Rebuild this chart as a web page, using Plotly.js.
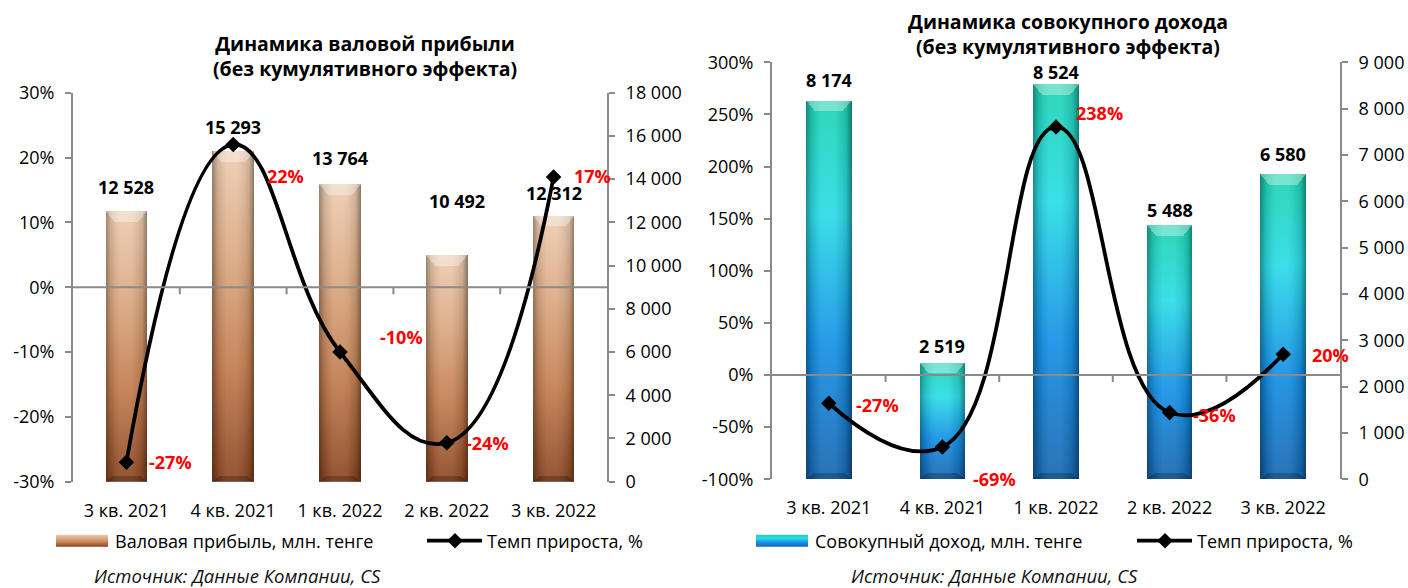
<!DOCTYPE html>
<html>
<head>
<meta charset="utf-8">
<script src="https://cdn.plot.ly/plotly-3.0.1.min.js"></script>
<style>
  html, body { margin: 0; padding: 0; background: #fff; }
  #chart { width: 1408px; height: 588px; }
</style>
</head>
<body>
<div id="chart"></div>
<script>
// Quarters
const categories = ['3 кв. 2021', '4 кв. 2021', '1 кв. 2022', '2 кв. 2022', '3 кв. 2022'];

// Gross profit, mln tenge, and its growth rate
const grossProfit = [12528, 15293, 13764, 10492, 12312];
const grossGrowth = [-0.27, 0.22, -0.10, -0.24, 0.17];

// Total income, mln tenge, and its growth rate
const totalIncome = [8174, 2519, 8524, 5488, 6580];
const incomeGrowth = [-0.27, -0.69, 2.38, -0.36, 0.20];

// Label placement (pixels): lift of value labels, offsets of growth labels
const grossLift = [24, 24, 26, 54, 23];
const grossLiftX = [0, 0, 0, 10, 0];
const grossPctDX = [44, 52, 61, 41, 39];
const grossPctDY = [0, -31, 15, 0, 1];
const incomeLift = [21, 17, 12, 15, 20];
const incomePctDX = [49, 52, 43, 45, 47];
const incomePctDY = [-2, -32, 14, -2, -1];

const FONT = 'Open Sans, Noto Sans, sans-serif';
const AXIS_GREY = '#8a8a8a';

function fmtThousands(v) {
  return String(Math.round(v)).replace(/\B(?=(\d{3})+(?!\d))/g, ' ');
}
function fmtPct(v) {
  return Math.round(v * 100) + '%';
}
function ticksFrom(lo, hi, step, fmt) {
  const vals = [], text = [];
  for (let v = lo; v <= hi + step / 1000; v += step) {
    const r = Math.round(v * 1e6) / 1e6;
    vals.push(r); text.push(fmt(r));
  }
  return { tickvals: vals, ticktext: text, tickmode: 'array' };
}

const tickFont = { family: FONT, size: 18, color: '#000' };

function valueAxis(domainY, anchor, range, step) {
  return Object.assign({
    domain: domainY, anchor: anchor, side: 'right', range: range,
    showgrid: false, zeroline: false, showline: true, linecolor: AXIS_GREY, linewidth: 2,
    ticks: 'outside', ticklen: 6, tickwidth: 2, tickcolor: AXIS_GREY,
    ticklabelstandoff: 7, tickfont: tickFont, fixedrange: true
  }, ticksFrom(range[0], range[1], step, fmtThousands));
}
function pctAxis(overlay, anchor, range, step) {
  return Object.assign({
    overlaying: overlay, anchor: anchor, side: 'left', range: range,
    showgrid: false, zeroline: false, showline: true, linecolor: AXIS_GREY, linewidth: 2,
    ticks: 'outside', ticklen: 6, tickwidth: 2, tickcolor: AXIS_GREY,
    ticklabelstandoff: 7, tickfont: tickFont, fixedrange: true
  }, ticksFrom(range[0], range[1], step, fmtPct));
}
function catAxis(domainX, anchor) {
  return {
    domain: domainX, anchor: anchor, type: 'category', range: [-0.5, 4.5],
    showline: false, showgrid: false, zeroline: false, ticks: '', tickangle: 0,
    ticklabelstandoff: 16, tickfont: tickFont, fixedrange: true
  };
}

const lineStyle = { color: '#000', width: 3.8, shape: 'spline', smoothing: 1.3 };
const markerStyle = { symbol: 'diamond', size: 12, color: '#000' };

const traces = [
  {
    type: 'bar', name: 'Валовая прибыль, млн. тенге',
    x: categories, y: grossProfit, xaxis: 'x', yaxis: 'y',
    width: 0.39, marker: { color: '#c98b5f', line: { width: 0 } },
    hoverinfo: 'skip', legend: 'legend'
  },
  {
    type: 'scatter', mode: 'lines+markers', name: 'Темп прироста, %',
    x: categories, y: grossGrowth, xaxis: 'x', yaxis: 'y2',
    line: lineStyle, marker: markerStyle,
    hoverinfo: 'skip', legend: 'legend2'
  },
  {
    type: 'bar', name: 'Совокупный доход, млн. тенге',
    x: categories, y: totalIncome, xaxis: 'x2', yaxis: 'y3',
    width: 0.40, marker: { color: '#1fa6d8', line: { width: 0 } },
    hoverinfo: 'skip', legend: 'legend3'
  },
  {
    type: 'scatter', mode: 'lines+markers', name: 'Темп прироста, %',
    x: categories, y: incomeGrowth, xaxis: 'x2', yaxis: 'y4',
    line: lineStyle, marker: markerStyle,
    hoverinfo: 'skip', legend: 'legend4'
  }
];

const LEFT_X = [73 / 1408, 607 / 1408];
const LEFT_Y = [1 - 481.7 / 588, 1 - 92.7 / 588];
const RIGHT_X = [772 / 1408, 1340 / 1408];
const RIGHT_Y = [1 - 479.3 / 588, 1 - 62.3 / 588];

const annotations = [];
const labelFont = { family: FONT, size: 18, color: '#000', weight: 'bold' };
const pctFont = { family: FONT, size: 18, color: '#ff0000', weight: 'bold' };

categories.forEach((c, i) => {
  annotations.push({
    xref: 'x', yref: 'y', x: c, y: grossProfit[i], text: '<b>' + fmtThousands(grossProfit[i]) + '</b>',
    showarrow: false, yshift: grossLift[i], xshift: grossLiftX[i], font: labelFont
  });
  annotations.push({
    xref: 'x', yref: 'y2', x: c, y: grossGrowth[i], text: '<b>' + fmtPct(grossGrowth[i]) + '</b>',
    showarrow: false, xshift: grossPctDX[i], yshift: grossPctDY[i], font: pctFont
  });
  annotations.push({
    xref: 'x2', yref: 'y3', x: c, y: totalIncome[i], text: '<b>' + fmtThousands(totalIncome[i]) + '</b>',
    showarrow: false, yshift: incomeLift[i], font: labelFont
  });
  annotations.push({
    xref: 'x2', yref: 'y4', x: c, y: incomeGrowth[i], text: '<b>' + fmtPct(incomeGrowth[i]) + '</b>',
    showarrow: false, xshift: incomePctDX[i], yshift: incomePctDY[i], font: pctFont
  });
});

const titleFont = { family: FONT, size: 19.5, color: '#000' };
const sourceFont = { family: FONT, size: 18.5, color: '#111' };
annotations.push(
  { xref: 'paper', yref: 'paper', x: 365 / 1408, y: 1 - 56 / 588, xanchor: 'center', yanchor: 'middle',
    text: '<b>Динамика валовой прибыли<br>(без кумулятивного эффекта)</b>',
    showarrow: false, font: titleFont },
  { xref: 'paper', yref: 'paper', x: 1068 / 1408, y: 1 - 34 / 588, xanchor: 'center', yanchor: 'middle',
    text: '<b>Динамика совокупного дохода<br>(без кумулятивного эффекта)</b>',
    showarrow: false, font: titleFont },
  { xref: 'paper', yref: 'paper', x: 237 / 1408, y: 1 - 575 / 588, xanchor: 'center', yanchor: 'middle',
    text: '<i>Источник: Данные Компании, CS</i>', showarrow: false, font: sourceFont },
  { xref: 'paper', yref: 'paper', x: 994 / 1408, y: 1 - 575 / 588, xanchor: 'center', yanchor: 'middle',
    text: '<i>Источник: Данные Компании, CS</i>', showarrow: false, font: sourceFont }
);

// zero lines over the bars plus small ticks at category boundaries
const shapes = [
  { type: 'line', layer: 'above', xref: 'x domain', x0: 0, x1: 1, yref: 'y2', y0: 0, y1: 0,
    line: { color: AXIS_GREY, width: 2 } },
  { type: 'line', layer: 'above', xref: 'x2 domain', x0: 0, x1: 1, yref: 'y4', y0: 0, y1: 0,
    line: { color: AXIS_GREY, width: 2 } }
];
for (let k = 0; k < categories.length - 1; k++) {
  shapes.push({ type: 'line', layer: 'above', xref: 'x', x0: k + 0.5, x1: k + 0.5,
    yref: 'y2', ysizemode: 'pixel', yanchor: 0, y0: 0, y1: -7, line: { color: AXIS_GREY, width: 2 } });
  shapes.push({ type: 'line', layer: 'above', xref: 'x2', x0: k + 0.5, x1: k + 0.5,
    yref: 'y4', ysizemode: 'pixel', yanchor: 0, y0: 0, y1: -7, line: { color: AXIS_GREY, width: 2 } });
}

// one single-entry legend per series, each placed under its chart
const legendBase = {
  orientation: 'h', yanchor: 'middle', xanchor: 'left', y: 1 - 541 / 588,
  font: { family: FONT, size: 18, color: '#000' }, bgcolor: 'rgba(0,0,0,0)',
  itemwidth: 55, itemclick: false, itemdoubleclick: false
};
const legendAt = px => Object.assign({}, legendBase, { x: px / 1408 });

const layout = {
  width: 1408, height: 588,
  margin: { l: 0, r: 0, t: 0, b: 0 },
  paper_bgcolor: '#fff', plot_bgcolor: 'rgba(0,0,0,0)',
  font: { family: FONT },
  showlegend: true,
  bargap: 0,
  xaxis: catAxis(LEFT_X, 'y'),
  yaxis: valueAxis(LEFT_Y, 'x', [0, 18000], 2000),
  yaxis2: pctAxis('y', 'x', [-0.3, 0.3], 0.1),
  xaxis2: catAxis(RIGHT_X, 'y3'),
  yaxis3: valueAxis(RIGHT_Y, 'x2', [0, 9000], 1000),
  yaxis4: pctAxis('y3', 'x2', [-1, 3], 0.5),
  legend: legendAt(50),
  legend2: legendAt(422),
  legend3: legendAt(750),
  legend4: legendAt(1132),
  annotations: annotations,
  shapes: shapes
};

const NS = 'http://www.w3.org/2000/svg';
function gradient(defs, id, stops, horizontal) {
  const g = document.createElementNS(NS, 'linearGradient');
  g.setAttribute('id', id);
  g.setAttribute('x1', '0'); g.setAttribute('y1', '0');
  g.setAttribute('x2', horizontal ? '1' : '0'); g.setAttribute('y2', horizontal ? '0' : '1');
  stops.forEach(s => {
    const st = document.createElementNS(NS, 'stop');
    st.setAttribute('offset', s[0]);
    st.setAttribute('stop-color', s[1]);
    st.setAttribute('stop-opacity', s[2] == null ? 1 : s[2]);
    g.appendChild(st);
  });
  defs.appendChild(g);
}

// bevelled look: darker side edges, light top facet, dark bottom facet
function bevel(node, box) {
  const g = node.parentNode;
  const mk = (d, fill) => {
    const p = document.createElementNS(NS, 'path');
    p.setAttribute('d', d);
    p.style.fill = fill;
    p.style.stroke = 'none';
    g.appendChild(p);
  };
  const { x, y, width: w, height: h } = box;
  const b = Math.min(9, w * 0.22);
  mk(`M${x},${y}H${x + w}V${y + h}H${x}Z`, 'url(#edgeShade)');
  mk(`M${x},${y}H${x + w}L${x + w - b},${y + b * 1.2}H${x + b}Z`, 'rgba(255,255,255,0.35)');
  mk(`M${x},${y + h}H${x + w}L${x + w - b * 0.8},${y + h - 6}H${x + b * 0.8}Z`, 'rgba(0,0,0,0.22)');
}

const gd = document.getElementById('chart');
Plotly.newPlot(gd, traces, layout, { displayModeBar: false, staticPlot: true }).then(() => {
  const defs = gd.querySelector('svg.main-svg defs');
  gradient(defs, 'copperFill', [
    ['0', '#ecccb0'], ['0.3', '#dcab85'], ['0.65', '#c27d4f'], ['1', '#8a4623']
  ]);
  gradient(defs, 'aquaFill', [
    ['0', '#1ed3b2'], ['0.3', '#2bdbe6'], ['0.65', '#1590e6'], ['1', '#1867b0']
  ]);
  gradient(defs, 'edgeShade', [
    ['0', '#000', 0.35], ['0.12', '#000', 0.12], ['0.35', '#fff', 0.08], ['0.6', '#fff', 0.08],
    ['0.88', '#000', 0.12], ['1', '#000', 0.4]
  ], true);

  const paint = (sel, fillId) => {
    gd.querySelectorAll(sel).forEach(p => {
      p.style.fill = `url(#${fillId})`;
      bevel(p, p.getBBox());
    });
  };
  paint('.subplot.xy .trace.bars .point path', 'copperFill');
  paint('.subplot.x2y3 .trace.bars .point path', 'aquaFill');

  // legend symbols: wide bar swatch, long line with centred marker
  gd.querySelectorAll('.legendpoints').forEach(lp => {
    const t = lp.parentNode;
    const tr = t.__data__ && t.__data__[0] && t.__data__[0].trace;
    if (!tr) return;
    if (tr.type === 'bar') {
      const p = lp.querySelector('path');
      if (p) {
        p.setAttribute('d', 'M6,6H58V-6H6Z');
        p.setAttribute('transform', '');
        p.style.fill = tr.yaxis === 'y' ? 'url(#copperFill)' : 'url(#aquaFill)';
        p.style.stroke = 'none';
      }
    } else {
      const l = t.querySelector('.legendlines path');
      if (l) { l.setAttribute('d', 'M6,0h54'); l.style.strokeWidth = '4.5px'; }
      const m = lp.querySelector('path.scatterpts');
      if (m) m.setAttribute('transform', 'translate(33,0)');
    }
  });
});
</script>
</body>
</html>
